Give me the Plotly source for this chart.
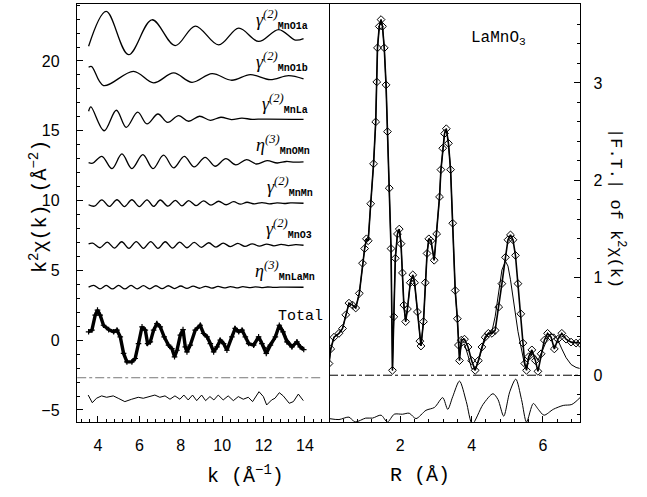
import plotly.graph_objects as go

# ---------------- left panel: k-space components ----------------
k_o1a = [3.55, 4.40, 5.48, 6.61, 7.73, 8.70, 9.83, 10.80, 11.76, 12.73, 13.53, 13.93]
v_o1a = [21.05, 23.55, 20.45, 22.95, 21.10, 22.50, 21.15, 22.35, 21.40, 22.25, 21.50, 21.60]

k_o1b = [3.55, 3.70, 4.27, 5.72, 6.69, 7.66, 8.54, 9.51, 10.47, 11.36, 12.32, 13.21, 13.93]
v_o1b = [19.55, 19.60, 18.24, 19.26, 18.43, 19.14, 18.47, 19.09, 18.62, 19.02, 18.66, 18.95, 18.71]

k_la = [3.55, 3.66, 4.30, 4.89, 5.37, 5.92, 6.37, 6.90, 7.37, 7.90, 8.38, 8.91, 9.43, 9.94,
        10.45, 10.95, 11.45, 12.00, 13.93]
v_la = [16.40, 16.71, 15.00, 16.47, 15.25, 16.33, 15.49, 16.20, 15.60, 16.09, 15.68, 16.04, 15.75, 15.97,
        15.80, 15.90, 15.82, 15.84, 15.82]

k_omn = [3.55, 3.75, 4.19, 4.68, 5.16, 5.64, 6.17, 6.66, 7.17, 7.66, 8.17, 8.65, 9.18, 9.66,
         10.18, 10.66, 11.18, 11.66, 12.17, 12.66, 13.10, 13.50, 13.93]
v_omn = [12.72, 12.68, 13.17, 12.29, 13.34, 12.29, 13.29, 12.29, 13.25, 12.34, 13.17, 12.41, 13.10, 12.46,
         13.00, 12.55, 12.93, 12.62, 12.86, 12.69, 12.80, 12.75, 12.77]

k_mnmn = [3.55, 3.83, 4.19, 4.55, 4.92, 5.28, 5.64, 6.00, 6.37, 6.69, 7.01, 7.38, 7.74, 8.06, 8.38,
          8.74, 9.10, 9.46, 9.83, 10.19, 10.55, 10.88, 11.20, 11.56, 11.92, 12.28, 12.65, 13.00, 13.30, 13.93]
v_mnmn = [9.70, 9.60, 10.05, 9.58, 10.06, 9.57, 10.06, 9.57, 10.05, 9.58, 10.04, 9.60, 10.02, 9.62, 10.00,
          9.64, 9.98, 9.67, 9.95, 9.70, 9.92, 9.74, 9.88, 9.76, 9.86, 9.77, 9.84, 9.79, 9.83, 9.81]

k_mno3 = [3.55, 3.75, 4.10, 4.45, 4.80, 5.15, 5.50, 5.85, 6.20, 6.55, 6.90, 7.25, 7.60, 7.95, 8.30, 8.65,
          9.00, 9.35, 9.70, 10.05, 10.40, 10.75, 11.10, 11.45, 11.80, 12.15, 12.50, 12.85, 13.20, 13.55, 13.93]
v_mno3 = [6.90, 6.95, 6.62, 7.02, 6.60, 7.05, 6.58, 7.06, 6.58, 7.06, 6.58, 7.05, 6.60, 7.03, 6.62, 7.00,
          6.65, 6.98, 6.67, 6.95, 6.70, 6.93, 6.72, 6.90, 6.74, 6.88, 6.76, 6.86, 6.78, 6.84, 6.80]

k_lamn = [3.55, 3.80, 4.10, 4.40, 4.70, 5.00, 5.30, 5.60, 5.90, 6.20, 6.50, 6.80, 7.10, 7.40, 7.70, 8.00,
          8.30, 8.60, 8.90, 9.20, 9.50, 9.80, 10.10, 10.40, 10.70, 11.00, 11.30, 11.60, 11.90, 12.20,
          12.50, 12.80, 13.93]
v_lamn = [3.80, 3.92, 3.68, 3.92, 3.67, 3.92, 3.67, 3.92, 3.68, 3.91, 3.68, 3.90, 3.69, 3.90, 3.70, 3.88,
          3.71, 3.87, 3.72, 3.86, 3.73, 3.85, 3.74, 3.84, 3.75, 3.83, 3.76, 3.82, 3.77, 3.81,
          3.78, 3.80, 3.79]

k_tot = [3.55, 3.71, 3.87, 3.98, 4.11, 4.27, 4.52, 4.76, 4.92, 5.08, 5.24, 5.40, 5.64, 5.80, 5.96,
         6.13, 6.29, 6.40, 6.53, 6.69, 6.85, 7.01, 7.20, 7.41, 7.57, 7.70, 7.82, 7.98, 8.11, 8.22,
         8.30, 8.46, 8.70, 8.94, 9.10, 9.27, 9.43, 9.59, 9.75, 9.91, 10.07, 10.23, 10.47, 10.63, 10.80,
         10.96, 11.12, 11.28, 11.52, 11.76, 11.92, 12.13, 12.33, 12.57, 12.76, 12.94, 13.13, 13.37,
         13.61, 13.77, 13.94]
v_tot_exp = [0.60, 0.72, 1.79, 2.15, 1.79, 1.07, 0.76, 0.60, 0.72, 0.24, -0.95, -1.55, -1.55, -1.31, -0.24,
             0.95, 0.72, -0.24, -0.12, 0.72, 1.19, 0.95, 0.24, -0.36, -0.60, -1.19, -0.72, 0.36, 0.76, -0.48,
             -0.84, -0.36, 0.72, 1.07, 0.48, 0.24, -0.24, -0.84, -0.48, 0.00, -0.24, -0.72, 0.24, 0.84, 0.60,
             0.72, 0.24, -0.24, -0.36, 0.24, -0.24, -0.95, -0.36, 0.24, 1.07, 0.60, -0.12, -0.48,
             -0.12, -0.48, -0.67]
v_tot_fit = [0.60, 0.72, 1.79, 2.15, 1.79, 1.07, 0.76, 0.60, 0.72, 0.30, -0.95, -1.50, -1.55, -1.31, -0.24,
             0.95, 0.72, -0.24, -0.12, 0.72, 1.19, 0.95, 0.24, -0.36, -0.60, -1.05, -0.72, 0.36, 0.76, -0.48,
             -0.75, -0.36, 0.72, 1.07, 0.48, 0.24, -0.24, -0.70, -0.48, 0.00, -0.24, -0.60, 0.24, 0.84, 0.60,
             0.72, 0.24, -0.24, -0.30, 0.24, -0.24, -0.60, -0.20, 0.24, 1.15, 0.75, 0.10, -0.35,
             -0.20, -0.35, -0.55]

k_res = [3.53, 3.73, 3.93, 4.18, 4.42, 4.74, 4.98, 5.30, 5.63, 5.95, 6.19, 6.43, 6.75, 6.99, 7.24,
         7.48, 7.72, 7.96, 8.15, 8.36, 8.57, 8.77, 9.01, 9.20, 9.41, 9.60, 9.81, 10.05, 10.29, 10.54,
         10.78, 11.02, 11.26, 11.47, 11.78, 11.99, 12.15, 12.39, 12.55, 12.76, 12.95, 13.24, 13.44, 13.68, 13.92]
v_res = [-3.93, -4.48, -4.16, -3.99, -4.09, -3.99, -4.16, -4.40, -4.23, -4.09, -4.16, -4.04, -3.93, -4.09, -3.99,
         -4.23, -3.99, -4.23, -3.93, -4.28, -3.93, -4.33, -3.93, -4.33, -4.04, -4.28, -3.93, -4.28, -3.99, -4.33,
         -4.04, -4.23, -4.09, -4.40, -3.69, -4.04, -4.64, -4.28, -4.16, -3.76, -3.99, -4.52, -4.40, -3.86, -4.33]

k_ref_line = [3.0, 14.75]
v_ref_line = [-2.69, -2.69]

# component labels: main symbol, subscript, right-edge k, y
lab_text = ["γ<sup>(2)</sup>", "γ<sup>(2)</sup>", "γ<sup>(2)</sup>", "η<sup>(3)</sup>",
            "γ<sup>(2)</sup>", "γ<sup>(2)</sup>", "η<sup>(3)</sup>"]
lab_sub = ["MnO1a", "MnO1b", "MnLa", "MnOMn", "MnMn", "MnO3", "MnLaMn"]
lab_k = [14.25, 14.25, 14.25, 14.35, 14.49, 14.42, 14.58]
lab_y = [23.0, 19.95, 16.95, 14.0, 11.0, 8.0, 5.0]

# ---------------- right panel: Fourier transform ----------------
r_ft = [0.00, 0.05, 0.14, 0.28, 0.38, 0.47, 0.56, 0.66, 0.75, 0.85,
        0.94, 1.00, 1.05, 1.10, 1.17, 1.25, 1.31, 1.34, 1.36, 1.41,
        1.46, 1.50, 1.55, 1.60, 1.64, 1.69, 1.74, 1.78, 1.82, 1.86,
        1.92, 1.97, 2.02, 2.06, 2.10, 2.15, 2.20, 2.28, 2.35, 2.40,
        2.48, 2.55, 2.58, 2.65, 2.70, 2.75, 2.80, 2.86, 2.95, 3.02,
        3.10, 3.14, 3.19, 3.24, 3.29, 3.35, 3.41, 3.47, 3.54, 3.60,
        3.63, 3.66, 3.71, 3.80, 3.90, 4.00, 4.10, 4.19, 4.29, 4.38,
        4.47, 4.57, 4.66, 4.76, 4.85, 4.95, 5.02, 5.09, 5.16, 5.23,
        5.30, 5.38, 5.44, 5.49, 5.54, 5.60, 5.69, 5.79, 5.86, 5.95,
        6.04, 6.13, 6.23, 6.32, 6.42, 6.53, 6.65, 6.79, 6.93, 7.03]
ft_exp = [0.12, 0.27, 0.39, 0.43, 0.48, 0.62, 0.74, 0.72, 0.69, 0.84,
          1.15, 1.30, 1.40, 1.38, 1.76, 2.17, 2.60, 3.01, 3.36, 3.58,
          3.65, 3.58, 3.36, 2.98, 2.50, 1.92, 1.30, 0.05, 0.60, 1.20,
          1.45, 1.50, 1.35, 1.05, 0.72, 0.55, 0.68, 0.95, 1.03, 0.95,
          0.65, 0.35, 0.30, 0.55, 0.95, 1.25, 1.40, 1.38, 1.18, 1.45,
          1.83, 2.11, 2.33, 2.48, 2.53, 2.38, 2.11, 1.56, 0.87, 0.58,
          0.31, 0.15, 0.36, 0.37, 0.29, 0.15, 0.05, 0.15, 0.29, 0.39,
          0.43, 0.43, 0.46, 0.70, 0.94, 1.21, 1.39, 1.44, 1.39, 1.23,
          0.94, 0.63, 0.33, 0.12, 0.05, 0.19, 0.26, 0.15, 0.04, 0.22,
          0.36, 0.43, 0.39, 0.27, 0.37, 0.43, 0.37, 0.34, 0.33, 0.33]
ft_fit = [0.12, 0.27, 0.39, 0.43, 0.48, 0.62, 0.74, 0.72, 0.69, 0.84,
          1.15, 1.30, 1.40, 1.38, 1.76, 2.17, 2.60, 3.01, 3.36, 3.58,
          3.65, 3.58, 3.36, 2.98, 2.50, 1.92, 1.30, 0.05, 0.60, 1.20,
          1.45, 1.50, 1.35, 1.05, 0.72, 0.55, 0.68, 0.95, 1.03, 0.95,
          0.65, 0.35, 0.30, 0.55, 0.95, 1.25, 1.40, 1.38, 1.18, 1.45,
          1.83, 2.11, 2.33, 2.48, 2.53, 2.38, 2.11, 1.56, 0.87, 0.58,
          0.30, 0.20, 0.30, 0.32, 0.20, 0.07, 0.06, 0.14, 0.27, 0.37,
          0.42, 0.45, 0.60, 0.85, 1.08, 1.17, 1.12, 0.98, 0.80, 0.62,
          0.45, 0.30, 0.18, 0.10, 0.10, 0.16, 0.22, 0.20, 0.15, 0.22,
          0.30, 0.38, 0.42, 0.42, 0.36, 0.27, 0.18, 0.11, 0.08, 0.07]

r_res = [0.00, 0.28, 0.56, 0.73, 1.03, 1.22, 1.46, 1.64, 1.83, 2.06,
         2.25, 2.44, 2.72, 2.96, 3.19, 3.33, 3.47, 3.66, 3.85, 4.02,
         4.32, 4.60, 4.74, 4.90, 5.07, 5.24, 5.40, 5.54, 5.73, 5.87,
         6.03, 6.29, 6.57, 6.81, 7.04]
ft_res = [-0.445, -0.455, -0.43, -0.48, -0.44, -0.44, -0.41, -0.48, -0.40, -0.40,
          -0.39, -0.445, -0.36, -0.33, -0.23, -0.35, -0.22, -0.06, -0.27, -0.50,
          -0.30, -0.19, -0.25, -0.42, -0.17, -0.04, -0.25, -0.48, -0.29, -0.35,
          -0.41, -0.35, -0.31, -0.30, -0.23]

r_zero = [0.0, 7.05]
v_zero = [0.0, 0.0]

# ---------------- figure ----------------
fig = go.Figure()
BLK = "black"

def comp(kx, vy):
    fig.add_trace(go.Scatter(x=kx, y=vy, mode="lines", xaxis="x", yaxis="y",
                             line=dict(color=BLK, width=1.3, shape="spline", smoothing=1.0),
                             showlegend=False, hoverinfo="skip"))

for kx, vy in [(k_o1a, v_o1a), (k_o1b, v_o1b), (k_la, v_la), (k_omn, v_omn),
               (k_mnmn, v_mnmn), (k_mno3, v_mno3), (k_lamn, v_lamn)]:
    comp(kx, vy)

fig.add_trace(go.Scatter(x=k_tot, y=v_tot_exp, mode="lines+markers", xaxis="x", yaxis="y",
                         line=dict(color=BLK, width=3.4),
                         marker=dict(symbol="cross-thin-open", size=4, color=BLK, line=dict(width=1.2, color=BLK)),
                         showlegend=False))
fig.add_trace(go.Scatter(x=k_tot, y=v_tot_fit, mode="lines", xaxis="x", yaxis="y",
                         line=dict(color=BLK, width=1.2), showlegend=False))
fig.add_trace(go.Scatter(x=k_ref_line, y=v_ref_line, mode="lines", xaxis="x", yaxis="y",
                         line=dict(color="#777777", width=1, dash="dashdot"), showlegend=False))
fig.add_trace(go.Scatter(x=k_res, y=v_res, mode="lines", xaxis="x", yaxis="y",
                         line=dict(color=BLK, width=1), showlegend=False))

# right panel
fig.add_trace(go.Scatter(x=r_ft, y=ft_fit, mode="lines", xaxis="x2", yaxis="y2",
                         line=dict(color=BLK, width=1), showlegend=False))
fig.add_trace(go.Scatter(x=r_ft, y=ft_exp, mode="lines+markers", xaxis="x2", yaxis="y2",
                         line=dict(color=BLK, width=1.6),
                         marker=dict(symbol="diamond-open", size=6, color=BLK, line=dict(width=1, color=BLK)),
                         showlegend=False))
fig.add_trace(go.Scatter(x=r_zero, y=v_zero, mode="lines", xaxis="x2", yaxis="y2",
                         line=dict(color=BLK, width=1, dash="dashdot"), showlegend=False))
fig.add_trace(go.Scatter(x=r_res, y=ft_res, mode="lines", xaxis="x2", yaxis="y2",
                         line=dict(color=BLK, width=1, shape="spline", smoothing=0.8), showlegend=False))

TICKF = dict(family="Liberation Sans", size=16, color=BLK)
MONO = "Liberation Mono"

ax_common = dict(showline=True, linecolor=BLK, linewidth=1.4, showgrid=False,
                 zeroline=False, ticks="inside", tickcolor=BLK, tickwidth=1.2, ticklen=6,
                 tickfont=TICKF)

x_dom_l = [77 / 647, 329 / 647]
x_dom_r = [329 / 647, 580 / 647]
y_dom = [(497 - 422) / 497, (497 - 4) / 497]

fig.update_layout(
    width=647, height=497, margin=dict(l=0, r=0, t=0, b=0),
    paper_bgcolor="white", plot_bgcolor="white", showlegend=False,
    xaxis=dict(domain=x_dom_l, range=[2.99, 15.16], anchor="y", tickvals=[4, 6, 8, 10, 12, 14], mirror=True,
               minor=dict(ticks="inside", dtick=0.4, tick0=0, ticklen=3, tickcolor=BLK),
               ticklabelstandoff=9, **ax_common),
    yaxis=dict(domain=y_dom, range=[-5.86, 24.08], anchor="x", dtick=5, tick0=0, mirror=True,
               minor=dict(ticks="inside", dtick=1, tick0=0, ticklen=3, tickcolor=BLK),
               ticklabelstandoff=13, **ax_common),
    xaxis2=dict(domain=x_dom_r, range=[0, 7.04], anchor="y2", tickvals=[2, 4, 6], mirror=True,
                minor=dict(ticks="inside", dtick=0.4, tick0=0, ticklen=3, tickcolor=BLK),
                ticklabelstandoff=9, **ax_common),
    yaxis2=dict(domain=y_dom, range=[-0.48, 3.81], anchor="x2", side="right", dtick=1, tick0=0, mirror=False,
                minor=dict(ticks="inside", dtick=0.2, tick0=0, ticklen=3, tickcolor=BLK),
                ticklabelstandoff=9, **ax_common),
)

ann = []
for t, s, kx, yy in zip(lab_text, lab_sub, lab_k, lab_y):
    ann.append(dict(x=kx, y=yy, xref="x", yref="y", xanchor="right", yanchor="middle", showarrow=False,
                    text=f"<i>{t}</i><sub><span style='font-family:{MONO};font-weight:bold;font-size:10px'>{s}</span></sub>",
                    font=dict(family="Liberation Serif", size=18, color=BLK)))
ann.append(dict(x=13.8, y=1.7, xref="x", yref="y", showarrow=False, text="Total",
                font=dict(family=MONO, size=15, color=BLK)))
ann.append(dict(x=4.76, y=3.46, xref="x2", yref="y2", showarrow=False, text="LaMnO<sub>3</sub>",
                font=dict(family=MONO, size=16, color=BLK)))
# axis titles
ann.append(dict(x=205 / 647, y=(497 - 475) / 497, xref="paper", yref="paper", showarrow=False,
                yanchor="middle", text="k (Å<sup>−1</sup>)", font=dict(family=MONO, size=20, color=BLK)))
ann.append(dict(x=452 / 647, y=(497 - 475) / 497, xref="paper", yref="paper", showarrow=False,
                yanchor="middle", text="R (Å)", font=dict(family=MONO, size=20, color=BLK)))
ann.append(dict(x=24 / 647, y=(497 - 207) / 497, xref="paper", yref="paper", showarrow=False, textangle=-90,
                text="k<sup>2</sup>χ(k) (Å<sup>−2</sup>)", font=dict(family=MONO, size=20, color=BLK)))
ann.append(dict(x=630 / 647, y=(497 - 208) / 497, xref="paper", yref="paper", showarrow=False, textangle=90,
                text="|F.T.| of k<sup>2</sup>χ(k)", font=dict(family=MONO, size=17, color=BLK)))
fig.update_layout(annotations=ann)

fig.write_html("out.html")
